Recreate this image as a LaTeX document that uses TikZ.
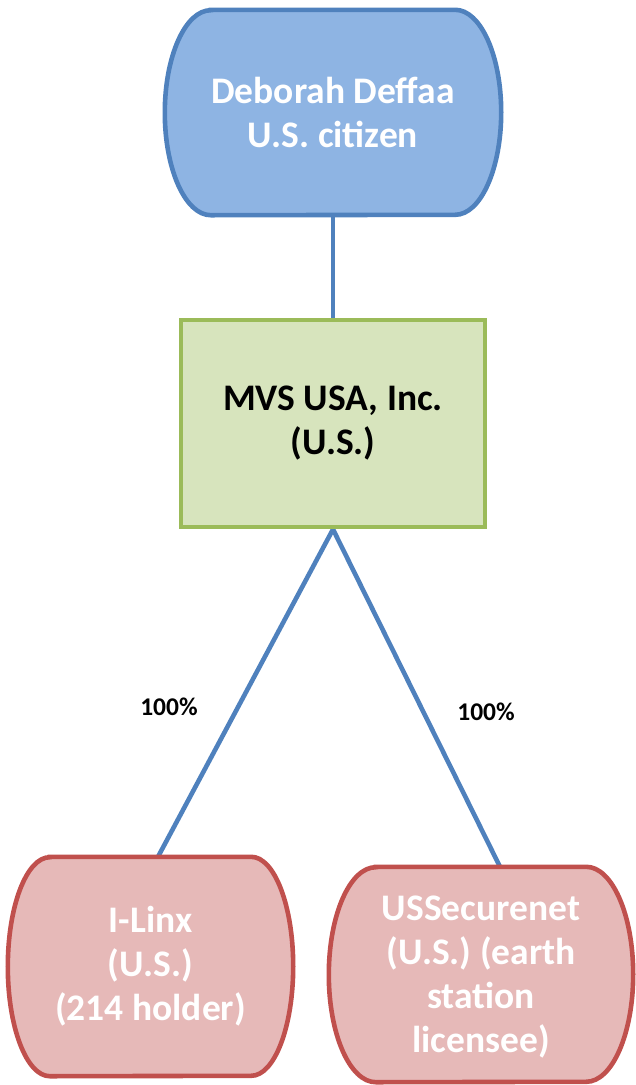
\documentclass[tikz,border=0pt]{standalone}
\usepackage{fontspec}
\setmainfont{Carlito}
\usetikzlibrary{backgrounds,calc}
\definecolor{bfill}{HTML}{8EB4E3}
\definecolor{bline}{HTML}{4F81BD}
\definecolor{gfill}{HTML}{D7E4BD}
\definecolor{gline}{HTML}{9BBB59}
\definecolor{rfill}{HTML}{E6B9B8}
\definecolor{rline}{HTML}{C0504D}
\newcommand\barrelshape[4]{%
  \filldraw[#2] ($(#1.north west)+(#3,0)$) -- ($(#1.north east)+(-#3,0)$)
    arc[start angle=90,end angle=-90,x radius=#3pt,y radius=#4pt]
    -- ($(#1.south west)+(#3,0)$)
    arc[start angle=-90,end angle=-270,x radius=#3pt,y radius=#4pt] -- cycle;}
\begin{document}
\begin{tikzpicture}[x=1pt,y=-1pt,
  txt/.style={font=\fontsize{37.5}{44}\selectfont\bfseries, align=center, inner sep=0pt},
  lbl/.style={font=\fontsize{25.5}{30}\selectfont\bfseries, inner sep=0pt},
  conn/.style={draw=bline, line width=4.6pt},
  bluebarrel/.style={fill=bfill, draw=bline, line width=4.6pt},
  redbarrel/.style={fill=rfill, draw=rline, line width=4.6pt}]
\useasboundingbox (0,0) rectangle (636,1085);
\node[txt, text=white, minimum width=336pt, minimum height=205pt] (deb) at (333,112.5) {Deborah Deffaa\\U.S. citizen};
\node[txt, draw=gline, fill=gfill, line width=4.6pt, minimum width=304pt, minimum height=207pt] (mvs) at (333,423.5) {MVS USA, Inc.\\(U.S.)};
\node[txt, text=white, minimum width=285pt, minimum height=219pt] (ilinx) at (150.5,966.5) {I-Linx\\(U.S.)\\(214 holder)};
\node[txt, text=white, minimum width=304pt, minimum height=215pt, text depth=0pt] (usnet) at (481,974.5) {USSecurenet\\(U.S.) (earth\\station\\licensee)};
\node[lbl] (p1) at (169,707) {100\%};
\node[lbl] (p2) at (486,712) {100\%};
\begin{pgfonlayer}{background}
\draw[conn] (deb.south) -- (mvs.north);
\draw[conn] (mvs.south) -- ([xshift=7.5pt]ilinx.north);
\draw[conn] (mvs.south) -- ([xshift=19pt]usnet.north);
\barrelshape{deb}{bluebarrel}{46}{102.5}
\barrelshape{ilinx}{redbarrel}{42}{109.5}
\barrelshape{usnet}{redbarrel}{47}{107.5}
\end{pgfonlayer}
\end{tikzpicture}
\end{document}
